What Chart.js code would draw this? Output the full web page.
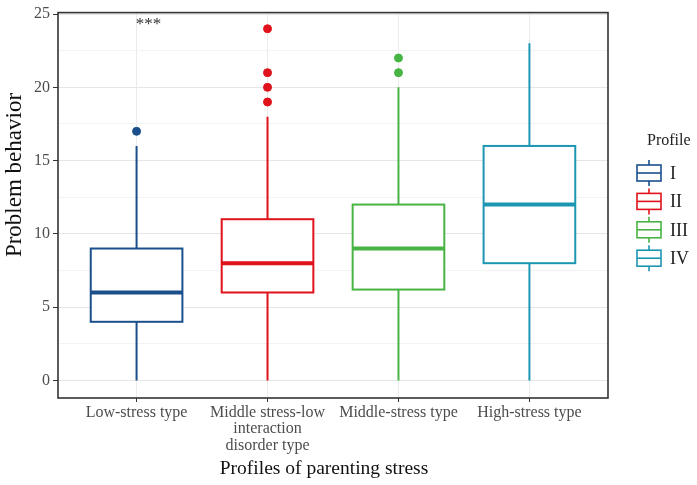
<!DOCTYPE html>
<html>
<head>
<meta charset="utf-8">
<script src="https://cdn.jsdelivr.net/npm/chart.js@4/dist/chart.umd.min.js"></script>
<style>
  html, body { margin: 0; padding: 0; background: #fff; }
  #wrap { width: 697px; height: 485px; }
</style>
</head>
<body>
<div id="wrap"><canvas id="myChart" width="697" height="485"></canvas></div>
<script>
// categories (x axis) and legend keys
const categories = ['Low-stress type', ['Middle stress-low', 'interaction', 'disorder type'], 'Middle-stress type', 'High-stress type'];
const profiles = ['I', 'II', 'III', 'IV'];
const colors = ['#1a4f8c', '#e0121b', '#48b443', '#1c97b3'];

// box plot stats
const whiskerLow = [0, 0, 0, 0];
const q1 = [4, 6, 6.2, 8];
const median = [6, 8, 9, 12];
const q3 = [9, 11, 12, 16];
const whiskerHigh = [16, 18, 20, 23];
const outliers = [[17], [19, 20, 21, 24], [21, 22], []];

const yTicks = [0, 5, 10, 15, 20, 25];
const yMinor = [2.5, 7.5, 12.5, 17.5, 22.5];

const serif = "'Liberation Serif', 'DejaVu Serif', serif";
const boxWidth = 0.7;

// draws the boxes + whiskers using the chart scales
const boxPlugin = {
  id: 'boxes',
  beforeDatasetsDraw(chart) {
    const ctx = chart.ctx;
    const x = chart.scales.x, y = chart.scales.y;
    ctx.save();
    for (let i = 0; i < categories.length; i++) {
      const cx = x.getPixelForValue(i);
      const left = x.getPixelForValue(i - boxWidth / 2);
      const right = x.getPixelForValue(i + boxWidth / 2);
      ctx.strokeStyle = colors[i];
      ctx.lineWidth = 2;
      // whiskers
      ctx.beginPath();
      ctx.moveTo(cx, y.getPixelForValue(whiskerLow[i]));
      ctx.lineTo(cx, y.getPixelForValue(q1[i]));
      ctx.moveTo(cx, y.getPixelForValue(q3[i]));
      ctx.lineTo(cx, y.getPixelForValue(whiskerHigh[i]));
      ctx.stroke();
      // box
      const top = y.getPixelForValue(q3[i]);
      const bot = y.getPixelForValue(q1[i]);
      ctx.fillStyle = '#fff';
      ctx.fillRect(left, top, right - left, bot - top);
      ctx.strokeRect(left, top, right - left, bot - top);
      // median
      ctx.lineWidth = 4;
      ctx.beginPath();
      ctx.moveTo(left, y.getPixelForValue(median[i]));
      ctx.lineTo(right, y.getPixelForValue(median[i]));
      ctx.stroke();
    }
    ctx.restore();
  },
  afterDraw(chart) {
    const ctx = chart.ctx;
    const a = chart.chartArea;
    const x = chart.scales.x, y = chart.scales.y;
    ctx.save();
    // panel border
    ctx.strokeStyle = '#333';
    ctx.lineWidth = 1.6;
    ctx.strokeRect(a.left, a.top, a.right - a.left, a.bottom - a.top);
    // significance mark
    ctx.fillStyle = '#333';
    ctx.font = '17px ' + serif;
    ctx.textAlign = 'center';
    ctx.textBaseline = 'middle';
    ctx.fillText('***', x.getPixelForValue(0) + 12, y.getPixelForValue(24.3));

    // axis titles
    ctx.fillStyle = '#111';
    ctx.font = '19.5px ' + serif;
    ctx.fillText('Profiles of parenting stress', 324, 469);
    ctx.save();
    ctx.translate(15, 175);
    ctx.rotate(-Math.PI / 2);
    ctx.font = '23px ' + serif;
    ctx.fillText('Problem behavior', 0, 0);
    ctx.restore();

    // legend
    const lx = 637, lw = 24, lh = 16;
    ctx.fillStyle = '#222';
    ctx.font = '16px ' + serif;
    ctx.textAlign = 'left';
    ctx.fillText('Profile', 647, 141);
    ctx.font = '18px ' + serif;
    for (let i = 0; i < profiles.length; i++) {
      const cy = 173 + i * 28.4;
      ctx.strokeStyle = colors[i];
      ctx.lineWidth = 1.6;
      ctx.beginPath();
      ctx.moveTo(lx + lw / 2, cy - 13);
      ctx.lineTo(lx + lw / 2, cy - lh / 2);
      ctx.moveTo(lx + lw / 2, cy + lh / 2);
      ctx.lineTo(lx + lw / 2, cy + 13);
      ctx.stroke();
      ctx.strokeRect(lx, cy - lh / 2, lw, lh);
      ctx.beginPath();
      ctx.moveTo(lx, cy);
      ctx.lineTo(lx + lw, cy);
      ctx.stroke();
      ctx.fillStyle = '#222';
      ctx.fillText(profiles[i], 670, cy + 1);
    }
    ctx.restore();
  }
};

const pointSets = outliers.map((vals, i) => ({
  label: profiles[i],
  data: vals.map(v => ({ x: i, y: v })),
  backgroundColor: colors[i],
  borderColor: colors[i],
  pointRadius: 4,
  pointHoverRadius: 4
}));

const ctx = document.getElementById('myChart').getContext('2d');
const myChart = new Chart(ctx, {
  type: 'scatter',
  data: { datasets: pointSets },
  plugins: [boxPlugin],
  options: {
    responsive: false,
    animation: false,
    events: [],
    layout: { padding: { top: 10, right: 89, left: 0, bottom: 0 } },
    plugins: { legend: { display: false }, tooltip: { enabled: false } },
    scales: {
      x: {
        type: 'linear',
        min: -0.6,
        max: 3.6,
        afterBuildTicks: s => { s.ticks = categories.map((c, i) => ({ value: i })); },
        afterFit: s => { s.height = 87; },
        grid: { color: '#ebebeb', lineWidth: 1, tickColor: '#333', tickLength: 4, drawTicks: true },
        border: { display: false },
        ticks: {
          autoSkip: false,
          maxRotation: 0,
          padding: 2,
          color: '#4d4d4d',
          font: { family: serif, size: 16, lineHeight: 1.04 },
          callback: v => categories[v]
        }
      },
      y: {
        min: -1.2,
        max: 25.1,
        afterBuildTicks: s => { s.ticks = yTicks.concat(yMinor).sort((p, q) => p - q).map(v => ({ value: v })); },
        afterFit: s => { s.width = 58; },
        grid: {
          color: c => (c.tick && c.tick.value % 5 === 0) ? '#e6e6e6' : '#f3f3f3',
          lineWidth: 1,
          tickColor: c => (c.tick && c.tick.value % 5 === 0) ? '#333' : 'rgba(0,0,0,0)',
          tickLength: 5,
          drawTicks: true
        },
        border: { display: false },
        ticks: {
          padding: 3,
          color: '#4d4d4d',
          font: { family: serif, size: 16 },
          callback: v => (v % 5 === 0 ? String(v) : '')
        }
      }
    }
  }
});
</script>
</body>
</html>
